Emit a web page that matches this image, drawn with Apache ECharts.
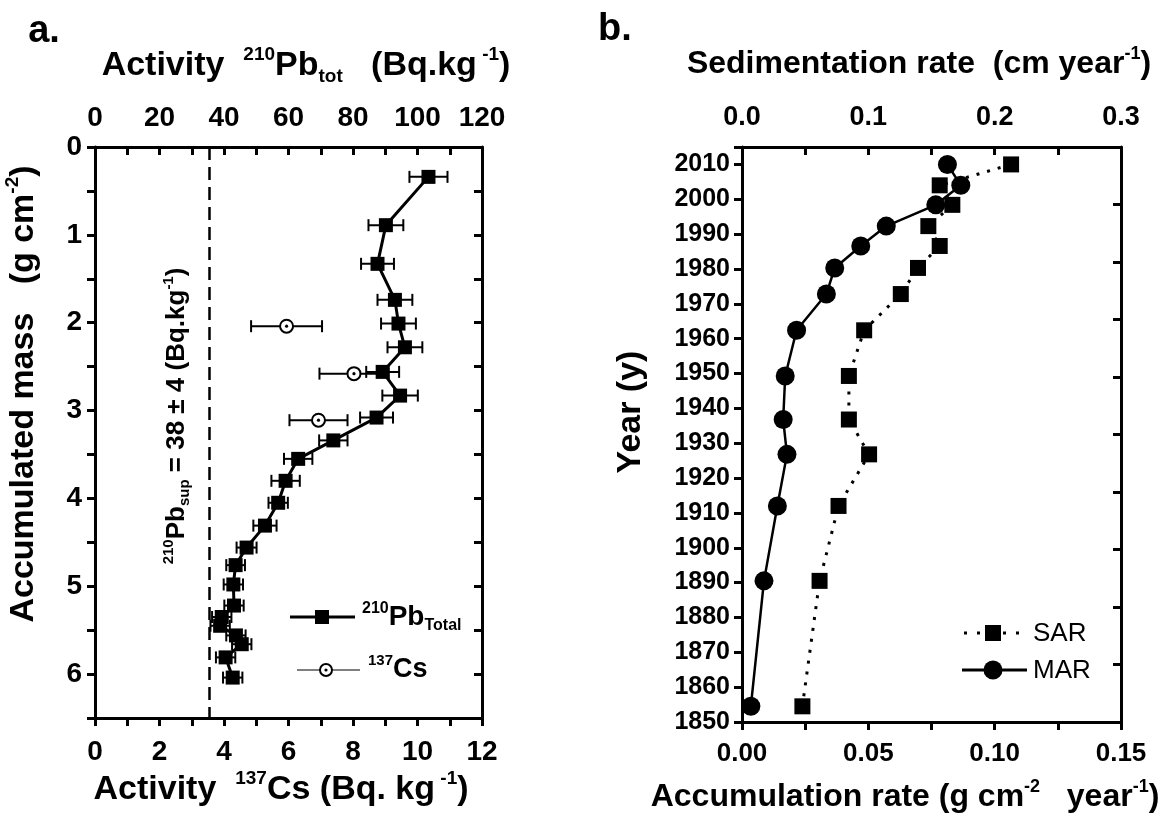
<!DOCTYPE html>
<html>
<head>
<meta charset="utf-8">
<script src="https://cdn.jsdelivr.net/npm/echarts@6/dist/echarts.min.js"></script>
<style>
  html, body { margin: 0; padding: 0; background: #fff; }
  #chart { width: 1164px; height: 818px; }
</style>
</head>
<body>
<div id="chart"></div>
<script>
// panel a: 210Pb total profile (top axis) and 137Cs (bottom axis) vs accumulated mass
const pbMass = [0.34, 0.89, 1.33, 1.74, 2.01, 2.28, 2.56, 2.83, 3.08, 3.34, 3.55, 3.80,
                4.05, 4.31, 4.56, 4.76, 4.98, 5.22, 5.35, 5.45, 5.56, 5.66, 5.81, 6.04]
const pbActivity = [103.4, 90.2, 87.6, 93.0, 94.1, 96.1, 89.2, 94.6, 87.3, 73.9, 63.0, 59.1,
                    56.8, 52.7, 47.0, 43.6, 42.9, 43.1, 39.3, 38.8, 43.7, 45.5, 40.5, 42.7]
const pbError = [5.9, 5.4, 5.1, 5.4, 5.4, 5.4, 5.1, 5.5, 5.1, 4.4, 4.4, 4.4,
                 3.0, 3.6, 3.1, 2.9, 3.0, 3.0, 3.0, 3.0, 3.0, 3.0, 3.0, 3.0]
const csMass = [2.04, 2.58, 3.11]
const csActivity = [5.94, 8.03, 6.93]
const csError = [1.1, 1.07, 0.9]
const pbSupported = 35.4

// panel b: sedimentation (SAR, top axis) and mass accumulation (MAR, bottom axis) rates
const years = [2010, 2004, 1998.4, 1992.3, 1986.6, 1980.3, 1972.8, 1962.4, 1949.3, 1936.8, 1926.8, 1912, 1890.5, 1854.5]
const sar = [0.213, 0.1565, 0.1665, 0.1475, 0.1565, 0.1393, 0.1257, 0.0967, 0.0846, 0.0846, 0.1006, 0.0764, 0.0614, 0.0478]
const mar = [0.0813, 0.0866, 0.0767, 0.0571, 0.0470, 0.0367, 0.0334, 0.0216, 0.0171, 0.0163, 0.0178, 0.0140, 0.0087, 0.0035]

const FONT = '"Liberation Sans", Arial, sans-serif'
const BLACK = '#000'

const isMult = (v, step) => Math.abs(v / step - Math.round(v / step)) < 1e-6

function rich(size) {
  return {
    m: { fontSize: size, fontWeight: 'bold', fontFamily: FONT, lineHeight: size * 1.2, color: BLACK },
    s: { fontSize: Math.round(size * 0.56), fontWeight: 'bold', fontFamily: FONT, verticalAlign: 'top', lineHeight: size * 0.62, color: BLACK },
    b: { fontSize: Math.round(size * 0.56), fontWeight: 'bold', fontFamily: FONT, verticalAlign: 'bottom', lineHeight: size * 0.62, color: BLACK },
    r: { fontSize: size, fontWeight: 'normal', fontFamily: FONT, lineHeight: size * 1.2, color: BLACK }
  }
}

function label(text, x, y, size, opts = {}) {
  return Object.assign({
    type: 'text', x, y, silent: true,
    style: { text, rich: rich(size), align: opts.align || 'center', verticalAlign: 'middle', fill: BLACK }
  }, opts.rotation ? { rotation: opts.rotation } : {})
}

function axisBase(extra) {
  const base = {
    axisLine: { show: true, onZero: false, lineStyle: { color: BLACK, width: 3 } },
    axisTick: { show: true, length: 8, lineStyle: { color: BLACK, width: 3 } },
    splitLine: { show: false },
    axisLabel: { color: BLACK, fontWeight: 'bold', fontFamily: FONT }
  }
  const out = Object.assign({}, base, extra)
  out.axisTick = Object.assign({}, base.axisTick, extra.axisTick)
  out.axisLabel = Object.assign({}, base.axisLabel, extra.axisLabel)
  return out
}

function errX(color) {
  return function (params, api) {
    const x = api.value(0), y = api.value(1), e = api.value(2)
    const lo = api.coord([x - e, y])
    const hi = api.coord([x + e, y])
    const cap = 6
    const st = { stroke: color, lineWidth: 2 }
    return {
      type: 'group',
      children: [
        { type: 'line', shape: { x1: lo[0], y1: lo[1], x2: hi[0], y2: hi[1] }, style: st },
        { type: 'line', shape: { x1: lo[0], y1: lo[1] - cap, x2: lo[0], y2: lo[1] + cap }, style: st },
        { type: 'line', shape: { x1: hi[0], y1: hi[1] - cap, x2: hi[0], y2: hi[1] + cap }, style: st }
      ]
    }
  }
}

function csMarker(params, api) {
  const g = errX(BLACK)(params, api)
  const c = api.coord([api.value(0), api.value(1)])
  g.children.push(
    { type: 'circle', shape: { cx: c[0], cy: c[1], r: 6.5 }, style: { fill: '#fff', stroke: BLACK, lineWidth: 2 } },
    { type: 'circle', shape: { cx: c[0], cy: c[1], r: 1.6 }, style: { fill: BLACK } }
  )
  return g
}

const chart = echarts.init(document.getElementById('chart'), null, { renderer: 'canvas' })

chart.setOption({
  backgroundColor: '#fff',
  animation: false,
  textStyle: { fontFamily: FONT },
  grid: [
    { left: 95, top: 147, width: 387, height: 571, outerBoundsMode: 'none' },
    { left: 742, top: 147, width: 379, height: 575, outerBoundsMode: 'none' }
  ],
  xAxis: [
    axisBase({
      gridIndex: 0, type: 'value', position: 'bottom', min: 0, max: 12, interval: 1,
      axisTick: { inside: false },
      axisLabel: { fontSize: 28, margin: 20, formatter: v => (isMult(v, 2) ? String(v) : '') }
    }),
    axisBase({
      gridIndex: 0, type: 'value', position: 'top', min: 0, max: 120, interval: 10,
      axisTick: { inside: true },
      axisLabel: { fontSize: 28, margin: 15, formatter: v => (isMult(v, 20) ? String(v) : '') }
    }),
    axisBase({
      gridIndex: 1, type: 'value', position: 'bottom', min: 0, max: 0.15, interval: 0.025,
      axisTick: { inside: false },
      axisLabel: { fontSize: 26, margin: 19, formatter: v => (isMult(v, 0.05) ? v.toFixed(2) : '') }
    }),
    axisBase({
      gridIndex: 1, type: 'value', position: 'top', min: 0, max: 0.3, interval: 0.05,
      axisTick: { inside: true },
      axisLabel: { fontSize: 27, margin: 16, formatter: v => (isMult(v, 0.1) ? v.toFixed(1) : '') }
    })
  ],
  yAxis: [
    axisBase({
      gridIndex: 0, type: 'value', position: 'left', inverse: true, min: 0, max: 6.5, interval: 0.5,
      axisTick: { inside: false },
      axisLabel: { fontSize: 28, margin: 13, formatter: v => (isMult(v, 1) ? String(v) : '') }
    }),
    axisBase({
      gridIndex: 0, type: 'value', position: 'right', inverse: true, min: 0, max: 6.5, interval: 0.5,
      axisTick: { inside: true },
      axisLabel: { show: false }
    }),
    axisBase({
      gridIndex: 1, type: 'value', position: 'left', min: 1850, max: 2015, interval: 10,
      axisTick: { inside: false },
      axisLabel: { fontSize: 25, margin: 12, formatter: v => (v <= 2010 && isMult(v, 10) ? String(v) : '') }
    }),
    axisBase({
      gridIndex: 1, type: 'value', position: 'right', min: 0, max: 10, interval: 1,
      axisTick: { inside: true },
      axisLabel: { show: false }
    })
  ],
  series: [
    {
      name: 'Pb error', type: 'custom', xAxisIndex: 1, yAxisIndex: 0, z: 1,
      renderItem: errX(BLACK),
      data: pbActivity.map((v, i) => [v, pbMass[i], pbError[i]])
    },
    {
      name: '210Pb Total', type: 'line', xAxisIndex: 1, yAxisIndex: 0, z: 3,
      symbol: 'rect', symbolSize: 14,
      lineStyle: { color: BLACK, width: 3 },
      itemStyle: { color: BLACK, borderWidth: 0 },
      data: pbActivity.map((v, i) => [v, pbMass[i]]),
      markLine: {
        silent: true, symbol: 'none', label: { show: false },
        lineStyle: { color: BLACK, width: 2.5, type: [13, 7] },
        data: [{ xAxis: pbSupported }]
      }
    },
    {
      name: '137Cs', type: 'custom', xAxisIndex: 0, yAxisIndex: 0, z: 4,
      renderItem: csMarker,
      data: csActivity.map((v, i) => [v, csMass[i], csError[i]])
    },
    {
      name: 'SAR', type: 'line', xAxisIndex: 3, yAxisIndex: 2, z: 3,
      symbol: 'rect', symbolSize: 16,
      lineStyle: { color: BLACK, width: 3, type: [3, 8] },
      itemStyle: { color: BLACK, borderWidth: 0 },
      data: sar.map((v, i) => [v, years[i]])
    },
    {
      name: 'MAR', type: 'line', xAxisIndex: 2, yAxisIndex: 2, z: 3,
      symbol: 'circle', symbolSize: 19,
      lineStyle: { color: BLACK, width: 2.5 },
      itemStyle: { color: BLACK, borderWidth: 0 },
      data: mar.map((v, i) => [v, years[i]])
    }
  ],
  graphic: [
    // panel labels
    label('{m|a.}', 44, 32, 38),
    label('{m|b.}', 615, 30, 38),

    // panel a titles
    label('{m|Activity  }{s|210}{m|Pb}{b|tot}{m|   (Bq.kg}{s| -1}{m|)}', 306, 66, 34),
    label('{m|Activity  }{s|137}{m|Cs (Bq. kg}{s| -1}{m|)}', 281, 790, 34),
    label('{m|Accumulated mass   (g cm}{s|-2}{m|)}', 24, 394, 34, { rotation: Math.PI / 2 }),
    label('{s|210}{m|Pb}{b|sup}{m| = 38 ± 4 (Bq.kg}{s|-1}{m|)}', 177, 416, 26, { rotation: Math.PI / 2 }),

    // panel a legend
    { type: 'line', silent: true, shape: { x1: 290, y1: 617, x2: 355, y2: 617 }, style: { stroke: BLACK, lineWidth: 3 } },
    { type: 'rect', silent: true, shape: { x: 315, y: 610, width: 14, height: 14 }, style: { fill: BLACK } },
    label('{s|210}{m|Pb}{b|Total}', 362, 617, 28, { align: 'left' }),
    { type: 'line', silent: true, shape: { x1: 297, y1: 670, x2: 360, y2: 670 }, style: { stroke: BLACK, lineWidth: 1.2 } },
    { type: 'circle', silent: true, shape: { cx: 326, cy: 670, r: 6 }, style: { fill: '#fff', stroke: BLACK, lineWidth: 2 } },
    { type: 'circle', silent: true, shape: { cx: 326, cy: 670, r: 1.6 }, style: { fill: BLACK } },
    label('{s|137}{m|Cs}', 368, 670, 27, { align: 'left' }),

    // panel b titles
    label('{m|Sedimentation rate  (cm year}{s|-1}{m|)}', 919, 64, 32),
    label('{m|Accumulation rate (g cm}{s|-2}{m|   year}{s|-1}{m|)}', 905, 797, 32),
    label('{m|Year (y)}', 631, 412, 34, { rotation: Math.PI / 2 }),

    // panel b legend
    { type: 'line', silent: true, shape: { x1: 964, y1: 633, x2: 1026, y2: 633 }, style: { stroke: BLACK, lineWidth: 3, lineDash: [3, 10] } },
    { type: 'rect', silent: true, shape: { x: 985, y: 625, width: 16, height: 16 }, style: { fill: BLACK } },
    label('{r|SAR}', 1033, 634, 26, { align: 'left' }),
    { type: 'line', silent: true, shape: { x1: 962, y1: 670, x2: 1027, y2: 670 }, style: { stroke: BLACK, lineWidth: 3 } },
    { type: 'circle', silent: true, shape: { cx: 993, cy: 670, r: 9.5 }, style: { fill: BLACK } },
    label('{r|MAR}', 1033, 671, 26, { align: 'left' })
  ]
})
</script>
</body>
</html>
